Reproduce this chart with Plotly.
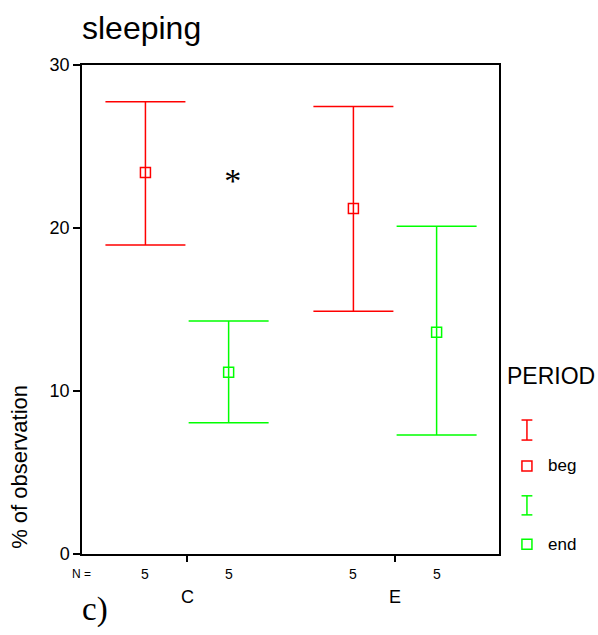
import plotly.graph_objects as go

groups = ["C", "E"]
periods = ["beg", "end"]
colors = {"beg": "#ff0000", "end": "#00ff00"}
mean_vals = {"beg": [23.4, 21.2], "end": [11.15, 13.6]}
upper_vals = {"beg": [27.75, 27.45], "end": [14.3, 20.1]}
lower_vals = {"beg": [18.95, 14.9], "end": [8.05, 7.3]}
n_counts = {"beg": [5, 5], "end": [5, 5]}
outlier_x = [1.22]
outlier_y = [22.75]
yticks = [0, 10, 20, 30]

offset = {"beg": -0.2, "end": 0.2}
FONT = "Arial, Liberation Sans, sans-serif"

fig = go.Figure()
for p in periods:
    xs = [i + 1 + offset[p] for i in range(len(groups))]
    m = mean_vals[p]
    fig.add_trace(go.Scatter(
        x=xs, y=m, mode="markers",
        marker=dict(symbol="square-open", size=10, color=colors[p], line=dict(width=1.5)),
        error_y=dict(type="data", symmetric=False,
                     array=[u - v for u, v in zip(upper_vals[p], m)],
                     arrayminus=[v - l for v, l in zip(m, lower_vals[p])],
                     color=colors[p], thickness=1.5, width=40),
        showlegend=False, name=p))

fig.add_trace(go.Scatter(x=outlier_x, y=outlier_y, mode="text", text=["*"],
                         textfont=dict(family="Liberation Serif, serif", size=34, color="black"),
                         showlegend=False))

ann = []
ann.append(dict(x=-0.002, y=-0.022, xref="paper", yref="paper", text="N =", showarrow=False,
                xanchor="center", yanchor="top", font=dict(family=FONT, size=12, color="black")))
for p in periods:
    for i in range(len(groups)):
        ann.append(dict(x=i + 1 + offset[p], y=-0.02, xref="x", yref="paper",
                        text=str(n_counts[p][i]), showarrow=False, yanchor="top",
                        font=dict(family=FONT, size=14, color="black")))
for i, g in enumerate(groups):
    ann.append(dict(x=i + 1, y=-0.063, xref="x", yref="paper", text=g, showarrow=False,
                    yanchor="top", font=dict(family=FONT, size=18, color="black")))
ann.append(dict(x=-0.005, y=-0.072, xref="paper", yref="paper", text="c)", showarrow=False,
                xanchor="left", yanchor="top",
                font=dict(family="Liberation Serif, serif", size=33, color="black")))
ann.append(dict(x=-0.005, y=1.035, xref="paper", yref="paper", text="sleeping", showarrow=False,
                xanchor="left", yanchor="bottom", font=dict(family=FONT, size=32, color="black")))
ann.append(dict(x=-0.149, y=0.178, xref="paper", yref="paper", text="% of observation",
                showarrow=False, textangle=-90, xanchor="center", yanchor="middle",
                font=dict(family=FONT, size=22, color="black")))
# legend
ann.append(dict(x=1.014, y=0.363, xref="paper", yref="paper", text="PERIOD", showarrow=False,
                xanchor="left", yanchor="middle", font=dict(family=FONT, size=23, color="black")))
ann.append(dict(x=1.112, y=0.18, xref="paper", yref="paper", text="beg", showarrow=False,
                xanchor="left", yanchor="middle", font=dict(family=FONT, size=17, color="black")))
ann.append(dict(x=1.112, y=0.02, xref="paper", yref="paper", text="end", showarrow=False,
                xanchor="left", yanchor="middle", font=dict(family=FONT, size=17, color="black")))

shapes = []
def ibar(xc, y0, y1, col):
    w = 0.013
    shapes.append(dict(type="line", xref="paper", yref="paper", x0=xc, x1=xc, y0=y0, y1=y1,
                       line=dict(color=col, width=1.5)))
    for yy in (y0, y1):
        shapes.append(dict(type="line", xref="paper", yref="paper", x0=xc - w, x1=xc + w, y0=yy, y1=yy,
                           line=dict(color=col, width=1.5)))
def sq(xc, yc, col):
    dx, dy = 0.012, 0.0102
    shapes.append(dict(type="rect", xref="paper", yref="paper", x0=xc - dx, x1=xc + dx,
                       y0=yc - dy, y1=yc + dy, line=dict(color=col, width=1.5)))
ibar(1.067, 0.233, 0.274, colors["beg"])
sq(1.067, 0.18, colors["beg"])
ibar(1.067, 0.08, 0.119, colors["end"])
sq(1.067, 0.02, colors["end"])

fig.update_layout(
    width=598, height=635,
    margin=dict(l=82, r=99, t=65, b=81),
    plot_bgcolor="white", paper_bgcolor="white",
    font=dict(family=FONT, color="black"),
    annotations=ann, shapes=shapes,
    xaxis=dict(range=[0.495, 2.5], tickvals=[1, 2], showticklabels=False, ticks="outside",
               ticklen=6, tickcolor="black", tickwidth=1.5, showgrid=False, zeroline=False,
               showline=True, linecolor="black", linewidth=1.5, mirror=True),
    yaxis=dict(range=[0, 30], tickvals=yticks, ticks="outside", ticklen=7, tickcolor="black",
               tickwidth=1.5, showgrid=False, zeroline=False, showline=True, linecolor="black",
               linewidth=1.5, mirror=True, tickfont=dict(size=18)),
)
fig.write_html("out.html")
